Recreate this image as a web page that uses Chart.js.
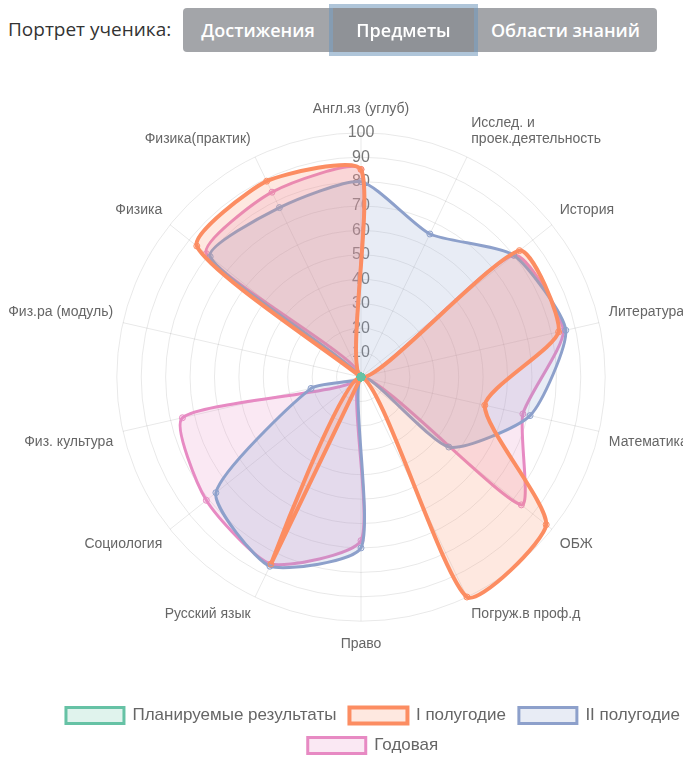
<!DOCTYPE html>
<html lang="ru">
<head>
<meta charset="utf-8">
<script src="https://cdn.jsdelivr.net/npm/chart.js@4.4.1/dist/chart.umd.min.js"></script>
<style>
  body { margin: 0; background: #fff; width: 683px; height: 764px; overflow: hidden; position: relative; font-family: 'Open Sans', sans-serif; }
  .title { position: absolute; left: 8px; top: 16px; font-size: 19px; color: #333; }
  .group { position: absolute; left: 183px; top: 8px; height: 44px; display: flex; }
  .btn { height: 44px; line-height: 44px; color: #fff; font-weight: 600; font-size: 18px; text-align: center; background: #a3a5a9; }
  .btn.first { width: 150px; border-radius: 4px 0 0 4px; }
  .btn.active { width: 141px; background: #8f9297; box-shadow: 0 0 0 4px rgba(110,150,185,0.55); position: relative; z-index: 1; }
  .btn.last { width: 183px; border-radius: 0 4px 4px 0; }
  .wrap { position: absolute; left: -11px; top: 48px; width: 768px; height: 716px; }
</style>
</head>
<body>
<div class="title">Портрет ученика:</div>
<div class="group">
  <div class="btn first">Достижения</div>
  <div class="btn active">Предметы</div>
  <div class="btn last">Области знаний</div>
</div>
<div class="wrap"><canvas id="chart-radar"></canvas></div>
<script>
// ── Data ────────────────────────────────────────────────────────
const subjects = [
  'Англ.яз (углуб)', ['Исслед. и', 'проек.деятельность'], 'История', 'Литература',
  'Математика', 'ОБЖ', 'Погруж.в проф.д', 'Право', 'Русский язык', 'Социология',
  'Физ. культура', 'Физ.ра (модуль)', 'Физика', 'Физика(практик)'
];
const planned    = [0, 0, 0, 0, 0, 0, 0, 0, 0, 0, 0, 0, 0, 0];
const firstHalf  = [85, 0, 83, 83, 52, 97, 100, 0, 85, 0, 0, 0, 86, 89];
const secondHalf = [80, 65, 80, 86, 71, 46, 0, 70, 86, 76, 21, 0, 79, 77];
const yearly     = [85, 0, 80, 85, 68, 84, 0, 67, 85, 81, 75, 0, 81, 84];
const tickValues = [0, 100, 10];   // min, max, step

// ── Dataset helper ──────────────────────────────────────────────
function series(label, data, rgb, width) {
  return {
    label, data,
    borderColor: `rgb(${rgb})`,
    backgroundColor: `rgba(${rgb},0.2)`,
    pointBorderColor: `rgb(${rgb})`,
    pointBackgroundColor: `rgba(${rgb},0.2)`,
    borderWidth: width,
    pointRadius: 3,
    pointBorderWidth: 1,
    tension: 0.2,
    fill: true,
  };
}

new Chart(document.getElementById('chart-radar'), {
  type: 'radar',
  data: {
    labels: subjects,
    datasets: [
      { ...series('Планируемые результаты', planned, '102,194,165', 3), pointBackgroundColor: 'rgb(102,194,165)', pointRadius: 4 },
      series('I полугодие', firstHalf, '252,141,98', 4),
      series('II полугодие', secondHalf, '141,160,203', 3),
      series('Годовая', yearly, '231,138,195', 3),
    ],
  },
  options: {
    responsive: true,
    maintainAspectRatio: false,
    animation: false,
    layout: { padding: { top: 53, bottom: 0 } },
    plugins: {
      // empty title on the right only nudges the radar left of the legend
      title: { display: true, position: 'right', text: ' ', font: { size: 10 }, padding: 8 },
      legend: {
        position: 'bottom',
        title: { display: true, text: ' ', font: { size: 10 }, padding: { top: 2, bottom: 27 } },
        labels: {
          color: '#666',
          font: { family: 'Liberation Sans', size: 17 },
          boxWidth: 58, boxHeight: 16, padding: 13,
        },
      },
      tooltip: { enabled: false },
    },
    scales: {
      r: {
        min: tickValues[0], max: tickValues[1],
        ticks: { stepSize: tickValues[2], color: '#777', font: { family: 'Liberation Sans', size: 16 }, showLabelBackdrop: false },
        grid: { circular: true, color: 'rgba(0,0,0,0.09)' },
        angleLines: { color: 'rgba(0,0,0,0.09)' },
        pointLabels: {
          color: '#666',
          font: { family: 'Liberation Sans', size: 14 },
          padding: (ctx) => (ctx.index === 0 || ctx.index === 7 ? 5 : 0),
        },
      },
    },
  },
});
</script>
</body>
</html>
